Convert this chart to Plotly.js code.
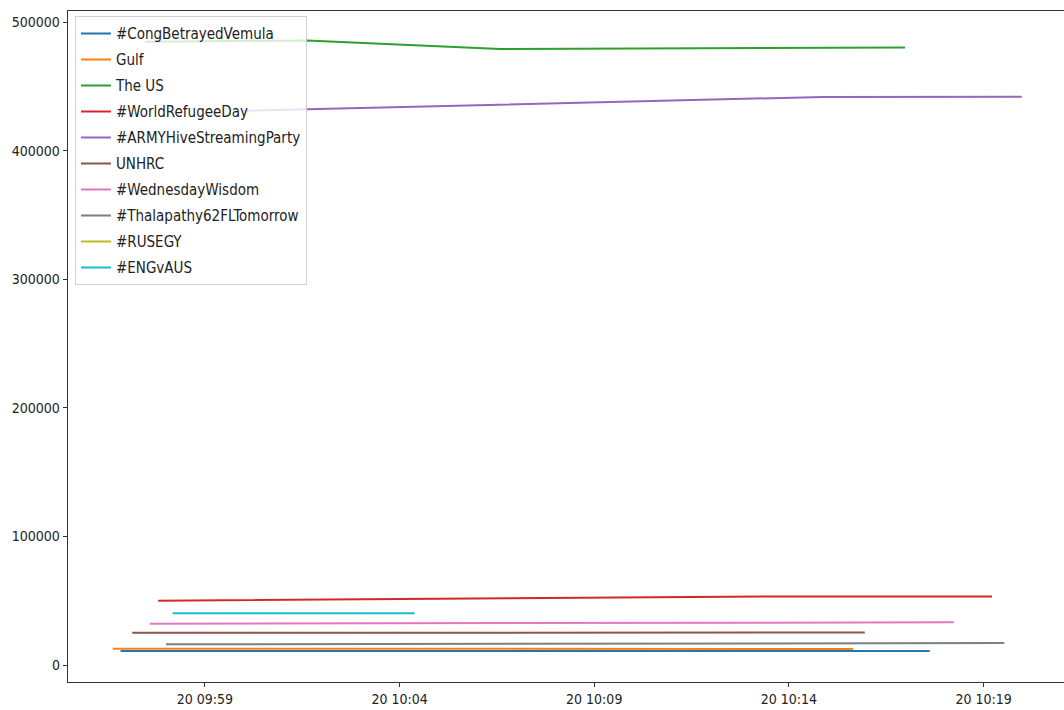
<!DOCTYPE html>
<html>
<head>
<meta charset="utf-8">
<script src="https://cdn.plot.ly/plotly-3.0.1.min.js"></script>
<style>
  html, body { margin: 0; padding: 0; background: #fff; }
  #chart { width: 1064px; height: 710px; }
</style>
</head>
<body>
<div id="chart"></div>
<script>
// ---- Data ----
const seriesNames = ['#CongBetrayedVemula', 'Gulf', 'The US', '#WorldRefugeeDay', '#ARMYHiveStreamingParty',
                     'UNHRC', '#WednesdayWisdom', '#Thalapathy62FLTomorrow', '#RUSEGY', '#ENGvAUS'];

const congTimes = ['2018-06-20 09:56:50', '2018-06-20 10:17:37'];
const congVals = [10900, 10800];

const gulfTimes = ['2018-06-20 09:56:38', '2018-06-20 10:15:39'];
const gulfVals = [12700, 12500];

const usTimes = ['2018-06-20 09:57:28', '2018-06-20 10:01:37', '2018-06-20 10:06:35', '2018-06-20 10:16:59'];
const usVals = [484700, 485600, 479000, 480200];

const refugeeTimes = ['2018-06-20 09:57:48', '2018-06-20 10:13:46', '2018-06-20 10:19:13'];
const refugeeVals = [50000, 53300, 53300];

const armyTimes = ['2018-06-20 09:59:59', '2018-06-20 10:14:52', '2018-06-20 10:19:59'];
const armyVals = [431000, 441700, 441900];

const unhrcTimes = ['2018-06-20 09:57:08', '2018-06-20 10:15:57'];
const unhrcVals = [25100, 25200];

const wisdomTimes = ['2018-06-20 09:57:35', '2018-06-20 10:18:14'];
const wisdomVals = [32100, 33200];

const thalaTimes = ['2018-06-20 09:58:00', '2018-06-20 10:19:32'];
const thalaVals = [16100, 17100];

// #RUSEGY has no visible line in the reference: a single sample only
const rusegyTimes = ['2018-06-20 09:58:10'];
const rusegyVals = [40200];

const engTimes = ['2018-06-20 09:58:10', '2018-06-20 10:04:23'];
const engVals = [40200, 40200];

const xTickVals = ['2018-06-20 09:59', '2018-06-20 10:04', '2018-06-20 10:09', '2018-06-20 10:14', '2018-06-20 10:19'];
const xTickText = ['20 09:59', '20 10:04', '20 10:09', '20 10:14', '20 10:19'];
const yTickVals = [0, 100000, 200000, 300000, 400000, 500000];

// ---- Styling ----
const colors = ['#1f77b4', '#ff7f0e', '#2ca02c', '#d62728', '#9467bd',
                '#8c564b', '#e377c2', '#7f7f7f', '#bcbd22', '#17becf'];
const allTimes = [congTimes, gulfTimes, usTimes, refugeeTimes, armyTimes, unhrcTimes, wisdomTimes, thalaTimes, rusegyTimes, engTimes];
const allVals = [congVals, gulfVals, usVals, refugeeVals, armyVals, unhrcVals, wisdomVals, thalaVals, rusegyVals, engVals];

const FONT = 'DejaVu Sans Condensed, DejaVu Sans, sans-serif';

const traces = seriesNames.map((name, i) => ({
  type: 'scatter',
  mode: 'lines',
  name: name,
  x: allTimes[i],
  y: allVals[i],
  line: { color: colors[i], width: 2 },
  legendgroup: 'g' + i,
  showlegend: true,
  hoverinfo: 'x+y+name'
}));

const layout = {
  width: 1064,
  height: 710,
  margin: { l: 68, r: 0, t: 11, b: 28, pad: 0 },
  paper_bgcolor: '#ffffff',
  plot_bgcolor: '#ffffff',
  font: { family: FONT, size: 14, color: '#222' },
  showlegend: true,
  legend: {
    x: 0.007, y: 0.992, xanchor: 'left', yanchor: 'top',
    bgcolor: 'rgba(255,255,255,0.8)',
    bordercolor: '#d0d0d0', borderwidth: 1,
    font: { family: FONT, size: 15, color: '#222' },
    traceorder: 'grouped',
    tracegroupgap: 3.5,
    itemwidth: 30
  },
  xaxis: {
    type: 'date',
    range: ['2018-06-20 09:55:29', '2018-06-20 10:21:04'],
    tickvals: xTickVals,
    ticktext: xTickText,
    ticks: 'outside', ticklen: 4, tickwidth: 1, tickcolor: '#333',
    showgrid: false, zeroline: false,
    showline: true, linecolor: '#333', linewidth: 1.3, mirror: true,
    tickfont: { family: FONT, size: 14, color: '#222' }
  },
  yaxis: {
    range: [-13220, 508550],
    tickvals: yTickVals,
    tickformat: 'd',
    ticks: 'outside', ticklen: 4, tickwidth: 1, tickcolor: '#333',
    showgrid: false, zeroline: false,
    showline: true, linecolor: '#333', linewidth: 1.3, mirror: true,
    tickfont: { family: FONT, size: 14, color: '#222' }
  }
};

Plotly.newPlot('chart', traces, layout, { displayModeBar: false, staticPlot: true });
</script>
</body>
</html>
